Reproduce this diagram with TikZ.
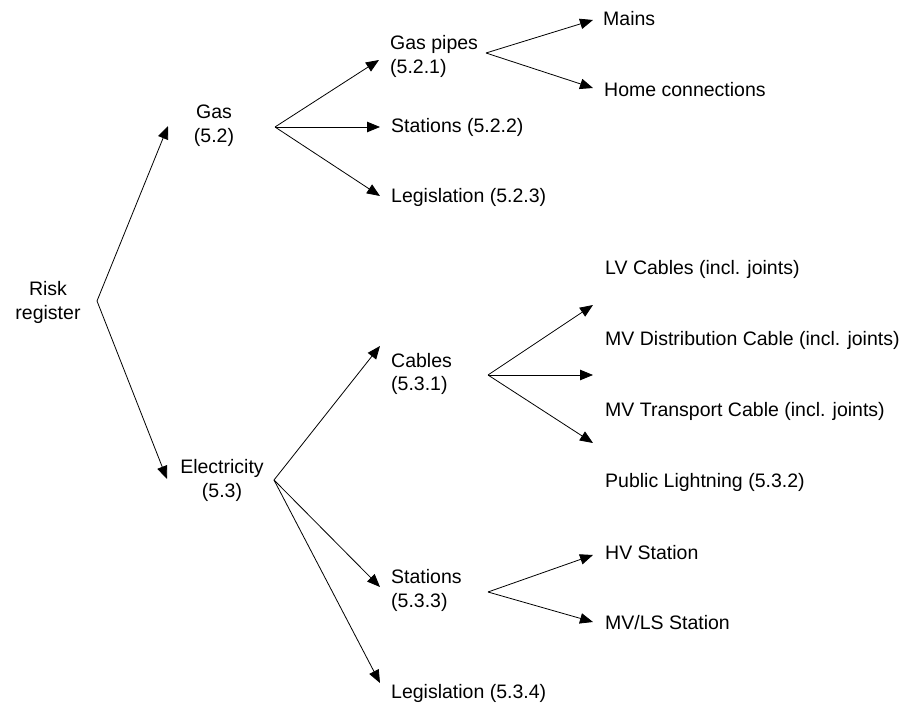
\documentclass[tikz,border=0pt]{standalone}
\usepackage{fontspec}
\setmainfont{Liberation Sans}
\usetikzlibrary{arrows.meta}
\begin{document}
\begin{tikzpicture}[x=1pt,y=-1pt,
  lbl/.style={anchor=base west, inner sep=0pt, font=\fontsize{19.5}{24}\selectfont},
  ctr/.style={anchor=base, inner sep=0pt, font=\fontsize{19.5}{24}\selectfont},
  arr/.style={-{Triangle[length=13pt,width=10.5pt]}, line width=0.8pt}]
\useasboundingbox (0,0) rectangle (908,703);
% text nodes
\node[ctr] (risk) at (48,296) {\begin{tabular}[t]{@{}c@{}}Risk\\register\end{tabular}};
\node[ctr] (gas) at (214,119) {\begin{tabular}[t]{@{}c@{}}Gas\\(5.2)\end{tabular}};
\node[ctr] (elec) at (222,473) {\begin{tabular}[t]{@{}c@{}}Electricity\\(5.3)\end{tabular}};
\node[lbl] (pipes) at (390,50) {\begin{tabular}[t]{@{}l@{}}Gas pipes\\(5.2.1)\end{tabular}};
\node[lbl] (gst) at (391,133) {Stations (5.2.2)};
\node[lbl] (gleg) at (391,203) {Legislation (5.2.3)};
\node[lbl] (mains) at (603,26) {Mains};
\node[lbl] (home) at (604,97) {Home connections};
\node[lbl] (cables) at (391,367) {\begin{tabular}[t]{@{}l@{}}Cables\\(5.3.1)\end{tabular}};
\node[lbl] (lv) at (605,275) {LV Cables (incl. joints)};
\node[lbl] (mvd) at (605,345) {MV Distribution Cable (incl. joints)};
\node[lbl] (mvt) at (605,416) {MV Transport Cable (incl. joints)};
\node[lbl] (pl) at (605,487) {Public Lightning (5.3.2)};
\node[lbl] (est) at (391,583) {\begin{tabular}[t]{@{}l@{}}Stations\\(5.3.3)\end{tabular}};
\node[lbl] (hv) at (605,559) {HV Station};
\node[lbl] (mvls) at (605,629) {MV/LS Station};
\node[lbl] (eleg) at (391,698) {Legislation (5.3.4)};
% fork points and arrow ends
\coordinate (r0) at (97,301);
\coordinate (tgas) at (168,126);
\coordinate (telec) at (167,479);
\coordinate (g0) at (275,127);
\coordinate (tpipes) at (379,60);
\coordinate (tgst) at (380,127);
\coordinate (tgleg) at (380,196);
\coordinate (p0) at (486,53);
\coordinate (tmains) at (593,20);
\coordinate (thome) at (593,88);
\coordinate (e0) at (274,480);
\coordinate (tcables) at (380,346);
\coordinate (test) at (380,587);
\coordinate (teleg) at (380,683);
\coordinate (c0) at (488,375);
\coordinate (tc1) at (593,305);
\coordinate (tc2) at (593,375);
\coordinate (tc3) at (593,443);
\coordinate (s0) at (488,592);
\coordinate (thv) at (593,555);
\coordinate (tmvls) at (593,622);
% connectors
\draw[arr] (r0) -- (tgas);
\draw[arr] (r0) -- (telec);
\draw[arr] (g0) -- (tpipes);
\draw[arr] (g0) -- (tgst);
\draw[arr] (g0) -- (tgleg);
\draw[arr] (p0) -- (tmains);
\draw[arr] (p0) -- (thome);
\draw[arr] (e0) -- (tcables);
\draw[arr] (e0) -- (test);
\draw[arr] (e0) -- (teleg);
\draw[arr] (c0) -- (tc1);
\draw[arr] (c0) -- (tc2);
\draw[arr] (c0) -- (tc3);
\draw[arr] (s0) -- (thv);
\draw[arr] (s0) -- (tmvls);
\end{tikzpicture}
\end{document}
